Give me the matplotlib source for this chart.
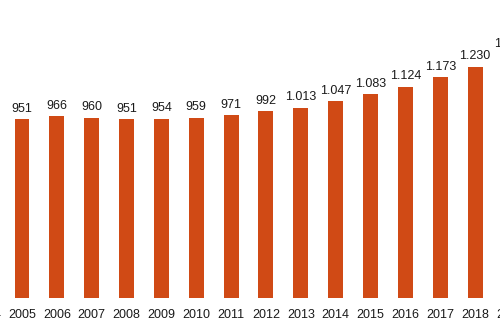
import numpy as np
import matplotlib.pyplot as plt

plt.rcParams["font.family"] = ["Liberation Sans", "DejaVu Sans"]

years = [2004, 2005, 2006, 2007, 2008, 2009, 2010, 2011, 2012, 2013,
         2014, 2015, 2016, 2017, 2018, 2019]
values = [945, 951, 966, 960, 951, 954, 959, 971, 992, 1013,
          1047, 1083, 1124, 1173, 1230, 1294]
labels = ["945", "951", "966", "960", "951", "954", "959", "971", "992", "1.013",
          "1.047", "1.083", "1.124", "1.173", "1.230", "1.294"]

# the chart is a crop: the axes run a little past both figure edges
step = 34.85  # pixels per year
left_px = 22 - 1.5 * step
width_px = 16 * step

fig = plt.figure(figsize=(5, 3.3), dpi=100)
ax = fig.add_axes([left_px / 500, 32 / 330, width_px / 500, 298 / 330])

bars = ax.bar(years, values, width=0.43, color="#D04A15")
for b, txt in zip(bars, labels):
    ax.text(
        b.get_x() + b.get_width() / 2,
        b.get_height() + 24,
        txt,
        ha="center",
        va="bottom",
        fontsize=9,
        color="#1a1a1a",
    )

ax.set_xticks(years, [str(y) for y in years])
ax.tick_params(axis="x", length=0, labelsize=9, pad=8, colors="#1a1a1a")
ax.set_yticks([])
ax.set_xlim(2003.5, 2019.5)
ax.set_ylim(0, 1585)
for s in ax.spines.values():
    s.set_visible(False)

fig.savefig("out.png", dpi=100)
